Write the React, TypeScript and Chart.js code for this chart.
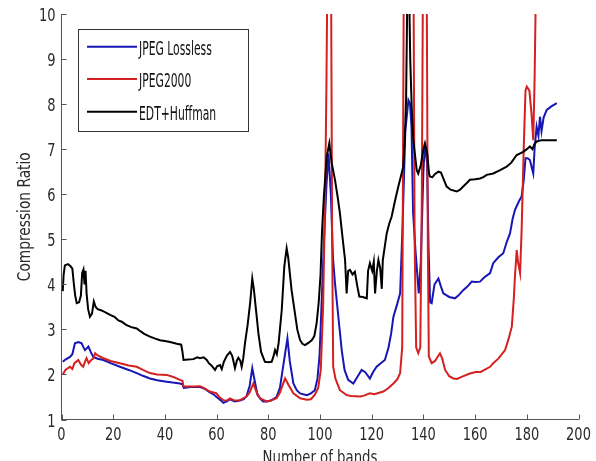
import React, { useEffect, useRef } from "react";
import { Chart, registerables } from "chart.js";

Chart.register(...registerables);

// ---- data ----
const seriesNames = ["JPEG Lossless", "JPEG2000", "EDT+Huffman"];
const xTicks = [0, 20, 40, 60, 80, 100, 120, 140, 160, 180, 200];
const yTicks = [1, 2, 3, 4, 5, 6, 7, 8, 9, 10];

const losslessX = [0.5, 1.5, 3.3, 4.2, 5.2, 6.5, 7.8, 8.5, 9.1, 10.4, 11.3, 12.3, 14, 16.2, 19, 22.6, 26, 29.1, 31.5, 34.2, 37, 40.7, 43, 45.8, 46.8, 47.3, 50, 53.6, 55.5, 57.4, 59, 60, 61.5, 62.6, 64, 65.2, 67, 69, 70.5, 71.6, 72.8, 73.8, 74.6, 75.8, 76.8, 78, 79.4, 81, 83.2, 84.5, 85.8, 87.4, 88.3, 89.7, 91, 92.3, 94.9, 96.5, 98, 99, 99.8, 100.5, 101.5, 102.5, 103.3, 104.2, 105, 105.8, 107.1, 108.4, 109.5, 110.9, 112.9, 114.5, 116.1, 117.5, 119.3, 120.5, 121.9, 123.5, 125.1, 126.5, 127.5, 128.4, 129.8, 131, 132, 133, 134.2, 134.8, 135.4, 136, 137, 138.2, 139, 140, 140.6, 141.4, 142, 142.6, 143.2, 144.3, 145.8, 146.8, 147.7, 150, 152.2, 153.5, 155.4, 157, 158.7, 160, 161.9, 163.5, 165.8, 167, 169, 170.9, 172.3, 173.5, 174.5, 175.4, 177, 178, 178.8, 179.5, 180.3, 181.2, 182.5, 183, 183.8, 184.5, 185.1, 185.7, 186.5, 187.7, 189.5, 191.6];
const losslessY = [2.28, 2.33, 2.39, 2.45, 2.69, 2.72, 2.69, 2.6, 2.54, 2.62, 2.5, 2.39, 2.35, 2.32, 2.25, 2.17, 2.1, 2.03, 1.97, 1.91, 1.87, 1.84, 1.82, 1.8, 1.78, 1.7, 1.72, 1.72, 1.68, 1.6, 1.55, 1.5, 1.43, 1.37, 1.4, 1.45, 1.4, 1.42, 1.45, 1.52, 1.75, 2.14, 1.9, 1.55, 1.47, 1.4, 1.4, 1.42, 1.5, 1.7, 2.2, 2.8, 2.3, 1.8, 1.65, 1.58, 1.54, 1.58, 1.65, 1.9, 2.4, 3.4, 4.9, 6.2, 6.9, 6.0, 4.6, 4.02, 3.28, 2.54, 2.1, 1.88, 1.8, 1.95, 2.1, 2.05, 1.91, 2.05, 2.17, 2.25, 2.32, 2.6, 2.9, 3.28, 3.55, 3.8, 5.4, 7.4, 8.09, 8.02, 7.5, 5.6, 4.7, 3.8, 4.5, 6.5, 7.13, 6.7, 4.8, 3.6, 3.58, 4.0, 4.13, 3.95, 3.8, 3.72, 3.69, 3.75, 3.87, 3.95, 4.06, 4.05, 4.06, 4.15, 4.25, 4.47, 4.6, 4.69, 4.95, 5.13, 5.45, 5.65, 5.85, 5.95, 6.3, 6.8, 6.8, 6.76, 6.46, 7.0, 7.5, 7.3, 7.72, 7.4, 7.7, 7.87, 7.95, 8.02];

const j2kX = [0.5, 1.5, 3.3, 4.2, 5, 6.5, 7.5, 8.4, 9.2, 9.7, 10.5, 11.5, 12.3, 13, 14, 16.2, 19, 22.6, 26, 29.1, 31.5, 34.2, 37, 40.7, 43, 45.8, 46.8, 47.2, 51, 53.6, 55, 57.4, 60, 61, 62.6, 64, 65.2, 67, 69, 71.6, 72.8, 74.2, 75.5, 76.8, 79.4, 81, 83.2, 84.5, 86.5, 88, 89.7, 92.3, 94.9, 96.5, 98, 99.3, 100.3, 101.2, 102, 102.5, 102.8, 104.3, 104.7, 105.1, 106, 107.7, 110.3, 112, 115.5, 117, 119.3, 121, 124.5, 126.5, 128.4, 130, 131, 131.8, 132.4, 136.2, 136.6, 137.2, 138, 138.8, 139.4, 139.8, 141.3, 141.7, 142.1, 143.2, 144.5, 146.4, 147.3, 148.4, 150, 151.6, 153, 155, 158, 160.6, 162, 165.8, 167, 169, 171.6, 173, 174.2, 175, 175.4, 176.1, 176.6, 177.4, 178, 178.8, 179.5, 180, 181, 181.8, 182.5, 183, 183.5];
const j2kY = [2.0, 2.1, 2.17, 2.12, 2.25, 2.32, 2.22, 2.17, 2.3, 2.36, 2.25, 2.32, 2.35, 2.47, 2.42, 2.36, 2.3, 2.25, 2.2, 2.17, 2.1, 2.03, 2.0, 1.99, 1.95, 1.88, 1.86, 1.73, 1.73, 1.74, 1.7, 1.62, 1.58, 1.5, 1.43, 1.42, 1.47, 1.42, 1.43, 1.51, 1.6, 1.8, 1.6, 1.47, 1.4, 1.42, 1.47, 1.6, 1.91, 1.75, 1.58, 1.47, 1.44, 1.45, 1.55, 1.7, 2.1, 3.5, 6.0, 8.5, 10.5, 10.5, 5, 2.17, 1.9, 1.65, 1.54, 1.52, 1.51, 1.53, 1.58, 1.56, 1.62, 1.7, 1.8, 1.9, 2.03, 2.6, 10.5, 10.5, 5, 2.6, 2.47, 2.6, 6, 10.5, 10.5, 5, 2.4, 2.25, 2.3, 2.47, 2.35, 2.1, 1.96, 1.91, 1.9, 1.95, 2.02, 2.06, 2.05, 2.17, 2.25, 2.35, 2.54, 2.8, 3.06, 3.7, 4.17, 4.76, 4.5, 4.25, 5.2, 7, 8.3, 8.39, 8.3, 7.8, 7.2, 8.5, 10.5];

const edtX = [0.5, 0.8, 1.3, 2.5, 3.5, 4.2, 4.8, 5.3, 5.9, 6.8, 7.5, 8.0, 8.5, 8.9, 9.3, 9.7, 10.3, 11.0, 11.8, 12.5, 13.2, 14.0, 15.5, 17, 18.8, 20.5, 22, 23.3, 25, 27, 29.1, 30.5, 32, 34.2, 36, 38.1, 40, 42, 44.6, 46.3, 46.8, 47.2, 49, 51, 52.5, 53.6, 55, 56.2, 57, 58, 59.4, 60.2, 61.3, 62, 62.8, 64, 65.2, 66, 66.5, 67.1, 67.8, 68.4, 69.2, 69.7, 70.3, 71, 72, 73, 73.8, 74.4, 75.3, 76.2, 77.2, 78.7, 80, 81.3, 82, 82.6, 83.3, 84, 85.2, 86.2, 87.1, 87.7, 89, 90.2, 91.2, 92.3, 93.2, 94.2, 95.5, 96.8, 97.8, 98.7, 99.5, 100.2, 100.8, 101.5, 102.6, 103.6, 104.5, 105.8, 106.8, 107.7, 108.7, 109.7, 110.3, 110.9, 111.6, 112.6, 113.5, 114.3, 115.2, 116.5, 118.1, 118.6, 119.3, 120.2, 120.8, 121.3, 122.0, 122.6, 123.3, 123.9, 124.3, 125.8, 126.8, 127.7, 129, 130.3, 131.3, 132.2, 132.8, 133.3, 133.8, 134.5, 134.9, 135.5, 136.1, 137.4, 138, 139, 140, 140.6, 141.5, 142.2, 142.6, 143.5, 144.5, 145.8, 146.8, 147.7, 149, 150.5, 152.9, 154.2, 155.4, 156.8, 158, 160, 161.9, 163.2, 164.5, 167, 169.5, 172.2, 174, 176.1, 178.6, 180, 181.2, 182.2, 183, 183.8, 185.7, 188, 191.6];
const edtY = [3.85, 4.2, 4.42, 4.45, 4.4, 4.35, 4.0, 3.75, 3.58, 3.6, 3.75, 4.25, 4.33, 4.0, 4.3, 3.8, 3.45, 3.28, 3.35, 3.62, 3.5, 3.45, 3.42, 3.38, 3.32, 3.28, 3.2, 3.17, 3.1, 3.05, 3.02, 2.96, 2.9, 2.84, 2.8, 2.76, 2.74, 2.72, 2.68, 2.66, 2.5, 2.32, 2.33, 2.34, 2.38, 2.36, 2.38, 2.32, 2.25, 2.2, 2.1, 2.18, 2.21, 2.12, 2.28, 2.42, 2.5, 2.42, 2.3, 2.14, 2.3, 2.37, 2.3, 2.17, 2.35, 2.7, 3.1, 3.6, 4.13, 3.9, 3.4, 2.9, 2.5, 2.28, 2.27, 2.28, 2.4, 2.54, 2.45, 2.7, 3.43, 4.4, 4.8, 4.6, 3.87, 3.4, 3.0, 2.76, 2.68, 2.65, 2.7, 2.76, 2.85, 3.14, 3.6, 4.2, 5.2, 5.95, 6.83, 7.13, 6.7, 6.32, 5.95, 5.58, 5.05, 4.54, 3.8, 4.3, 4.32, 4.22, 4.28, 4.0, 3.73, 3.72, 3.69, 4.3, 4.47, 4.3, 4.5, 3.8, 4.3, 4.54, 4.35, 3.9, 4.54, 5.13, 5.35, 5.5, 5.85, 6.17, 6.4, 6.61, 7.2, 8.09, 10.5, 10.5, 9.0, 7.9, 7.2, 6.54, 6.46, 6.65, 7.0, 7.13, 6.9, 6.45, 6.39, 6.38, 6.45, 6.5, 6.48, 6.35, 6.17, 6.1, 6.06, 6.1, 6.17, 6.25, 6.32, 6.33, 6.35, 6.38, 6.43, 6.46, 6.53, 6.61, 6.7, 6.87, 6.94, 7.0, 7.06, 7.0, 7.12, 7.17, 7.2, 7.2, 7.2];

const xTitle = "Number of bands";
const yTitle = "Compression Ratio";

// ---- styles ----
const FONT = "'DejaVu Sans Condensed', 'DejaVu Sans', sans-serif";
const BLUE = "#1616b4";
const RED = "#d42020";
const BLACK = "#000000";
const AXIS = "#555555";
const TEXT = "#2a2a2a";
const colors = [BLUE, RED, BLACK];

const toPoints = (xs: number[], ys: number[]) => xs.map((x, i) => ({ x, y: ys[i] }));

function squeezedText(ctx: CanvasRenderingContext2D, text: string, x: number, y: number, sx: number, rot = 0) {
  ctx.save();
  ctx.translate(x, y);
  if (rot) ctx.rotate(rot);
  ctx.scale(sx, 1);
  ctx.fillText(text, 0, 0);
  ctx.restore();
}

const overlay = {
  id: "overlay",
  afterDraw(chart: any) {
    const { ctx, chartArea, scales } = chart;
    const xs = scales.x;
    const ys = scales.y;
    ctx.save();
    // inward ticks
    ctx.strokeStyle = AXIS;
    ctx.lineWidth = 1;
    ctx.beginPath();
    for (const t of xTicks) {
      const px = Math.round(xs.getPixelForValue(t)) + 0.5;
      ctx.moveTo(px, chartArea.bottom);
      ctx.lineTo(px, chartArea.bottom - 5);
    }
    for (const t of yTicks) {
      const py = Math.round(ys.getPixelForValue(t)) + 0.5;
      ctx.moveTo(chartArea.left, py);
      ctx.lineTo(chartArea.left + 5, py);
    }
    ctx.stroke();

    // tick labels (condensed, MATLAB-like)
    ctx.fillStyle = TEXT;
    ctx.font = `17px ${FONT}`;
    ctx.textBaseline = "alphabetic";
    ctx.textAlign = "center";
    for (const t of xTicks) {
      squeezedText(ctx, String(t), xs.getPixelForValue(t), 440, 0.85);
    }
    ctx.textAlign = "right";
    for (const t of yTicks) {
      squeezedText(ctx, String(t), 55.5, ys.getPixelForValue(t) + 7, 0.85);
    }

    // legend
    const lx = 78.5, ly = 29.5, lw = 170, lh = 102;
    ctx.fillStyle = "#ffffff";
    ctx.fillRect(lx, ly, lw, lh);
    ctx.strokeStyle = "#333333";
    ctx.lineWidth = 1;
    ctx.strokeRect(lx, ly, lw, lh);
    const rows = [46.7, 79, 111.7];
    ctx.font = `20px ${FONT}`;
    ctx.textBaseline = "alphabetic";
    ctx.textAlign = "left";
    seriesNames.forEach((name, i) => {
      ctx.strokeStyle = colors[i];
      ctx.lineWidth = 2;
      ctx.beginPath();
      ctx.moveTo(87, rows[i]);
      ctx.lineTo(137, rows[i]);
      ctx.stroke();
      ctx.fillStyle = "#111111";
      squeezedText(ctx, name, 139, rows[i] + 8, 0.6);
    });

    // axis titles
    ctx.fillStyle = TEXT;
    ctx.font = `18px ${FONT}`;
    ctx.textAlign = "center";
    ctx.textBaseline = "alphabetic";
    squeezedText(ctx, xTitle, (chartArea.left + chartArea.right) / 2, 463, 0.82);
    squeezedText(ctx, yTitle, 30, (chartArea.top + chartArea.bottom) / 2, 0.85, -Math.PI / 2);
    ctx.restore();
  },
};

export default function App() {
  const ref = useRef<HTMLCanvasElement | null>(null);
  useEffect(() => {
    if (!ref.current) return;
    const chart = new Chart(ref.current, {
      type: "line",
      data: {
        datasets: [
          { label: seriesNames[0], data: toPoints(losslessX, losslessY), borderColor: BLUE, order: 2 },
          { label: seriesNames[1], data: toPoints(j2kX, j2kY), borderColor: RED, order: 1 },
          { label: seriesNames[2], data: toPoints(edtX, edtY), borderColor: BLACK, order: 0 },
        ].map((d) => ({ ...d, borderWidth: 2, pointRadius: 0, tension: 0, fill: false, clip: 0 })),
      },
      options: {
        responsive: false,
        animation: false,
        events: [],
        layout: { padding: { left: 0, top: 14, right: 17.5, bottom: 0 } },
        plugins: { legend: { display: false }, tooltip: { enabled: false } },
        scales: {
          x: {
            type: "linear",
            min: 0,
            max: 200,
            afterBuildTicks: (s: any) => { s.ticks = xTicks.map((v) => ({ value: v })); },
            afterFit: (s: any) => { s.height = 41.5; s.paddingLeft = 0; s.paddingRight = 0; },
            grid: { display: false, drawTicks: false },
            border: { display: true, color: AXIS, width: 1 },
            ticks: { display: false },
          },
          y: {
            type: "linear",
            min: 1,
            max: 10,
            afterBuildTicks: (s: any) => { s.ticks = yTicks.map((v) => ({ value: v })); },
            afterFit: (s: any) => { s.width = 61.5; s.paddingTop = 0; s.paddingBottom = 0; },
            grid: { display: false, drawTicks: false },
            border: { display: true, color: AXIS, width: 1 },
            ticks: { display: false },
          },
        },
      },
      plugins: [overlay],
    });
    return () => chart.destroy();
  }, []);
  return (
    <div style={{ position: "absolute", left: 0, top: 0, width: 596, height: 461, background: "#fff" }}>
      <canvas ref={ref} width={596} height={461} style={{ display: "block" }} />
    </div>
  );
}
